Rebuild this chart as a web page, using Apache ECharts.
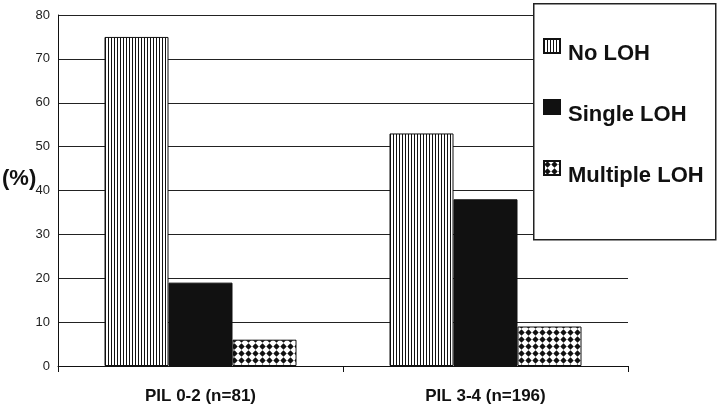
<!DOCTYPE html>
<html>
<head>
<meta charset="utf-8">
<script src="https://cdn.jsdelivr.net/npm/echarts@6/dist/echarts.min.js"></script>
<style>html,body{margin:0;padding:0;background:#fff}#c{width:720px;height:410px}</style>
</head>
<body>
<div id="c"></div>
<script>
const categories = ['PIL 0-2 (n=81)', 'PIL 3-4 (n=196)'];
const seriesNames = ['No LOH', 'Single LOH', 'Multiple LOH'];
const noLoh = [75, 53];
const singleLoh = [19, 38];
const multipleLoh = [6, 9];
const yTicks = [0, 80, 10];

function stripePattern() {
  const c = document.createElement('canvas');
  c.width = 3; c.height = 4;
  const g = c.getContext('2d');
  g.fillStyle = '#fff'; g.fillRect(0, 0, 3, 4);
  g.fillStyle = '#111'; g.fillRect(0, 0, 1, 4);
  return c;
}
function diamondPattern() {
  const c = document.createElement('canvas');
  c.width = 7; c.height = 7;
  const g = c.getContext('2d');
  g.fillStyle = '#fff'; g.fillRect(0, 0, 7, 7);
  g.fillStyle = '#111';
  g.beginPath();
  g.moveTo(3.5, 0.3); g.lineTo(6.7, 3.5); g.lineTo(3.5, 6.7); g.lineTo(0.3, 3.5);
  g.closePath(); g.fill();
  return c;
}

const fills = [
  { image: stripePattern(), repeat: 'repeat' },
  '#111',
  { image: diamondPattern(), repeat: 'repeat' }
];
const values = [noLoh, singleLoh, multipleLoh];

const chart = echarts.init(document.getElementById('c'), null, { renderer: 'canvas' });
chart.setOption({
  animation: false,
  backgroundColor: '#fff',
  title: {
    text: '(%)', left: -3, top: 163,
    textStyle: { fontFamily: 'Liberation Sans, Arial', fontWeight: 'bold', fontSize: 22, color: '#111' }
  },
  grid: { left: 58, right: 92, top: 15, bottom: 44 },
  xAxis: {
    type: 'category',
    data: categories,
    axisLine: { lineStyle: { color: '#111', width: 1 } },
    axisTick: { show: true, length: 6, lineStyle: { color: '#111' } },
    axisLabel: { margin: 22, fontFamily: 'Liberation Sans, Arial', fontWeight: 'bold', fontSize: 17, color: '#111' }
  },
  yAxis: {
    type: 'value',
    min: yTicks[0], max: yTicks[1], interval: yTicks[2],
    axisLine: { show: true, lineStyle: { color: '#111', width: 1 } },
    axisTick: { show: false },
    axisLabel: { margin: 8, fontFamily: 'Liberation Sans, Arial', fontSize: 13, color: '#222' },
    splitLine: { show: true, lineStyle: { color: '#222', width: 1 } }
  },
  legend: {
    orient: 'vertical',
    left: 538, top: 33,
    z: 20,
    itemWidth: 16, itemHeight: 14,
    itemGap: 34,
    icon: 'rect',
    data: seriesNames,
    formatter: '{t|{name}}',
    textStyle: {
      rich: {
        t: { fontFamily: 'Liberation Sans, Arial', fontWeight: 'bold', fontSize: 22, color: '#111', padding: [16, 0, 0, 3] }
      }
    }
  },
  graphic: [{
    type: 'rect', z: 10, left: 533, top: 3,
    shape: { width: 182, height: 236 },
    style: { fill: '#fff', stroke: '#222', lineWidth: 1.5 }
  }],
  series: seriesNames.map((name, i) => ({
    name: name,
    type: 'bar',
    data: values[i],
    barWidth: 64,
    barGap: '0%',
    itemStyle: { color: fills[i], borderColor: '#111', borderWidth: 1 }
  }))
});
</script>
</body>
</html>
